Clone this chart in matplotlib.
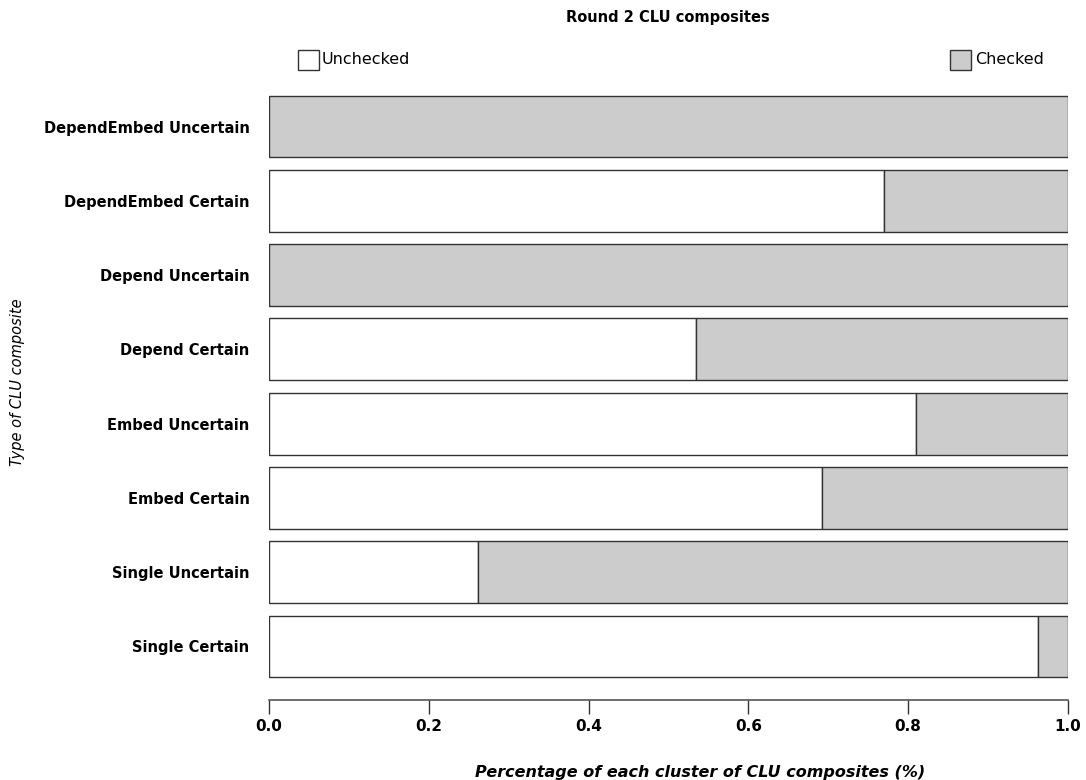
"""
Round 2 CLU composites - stacked horizontal bars
"""
import numpy as np
import matplotlib
matplotlib.use("Agg")
import matplotlib.pyplot as plt
from matplotlib.patches import Rectangle

# Data (bottom to top)
categories = ["Single Certain", "Single Uncertain", "Embed Certain", "Embed Uncertain",
              "Depend Certain", "Depend Uncertain", "DependEmbed Certain", "DependEmbed Uncertain"]
unchecked = [0.963, 0.261, 0.692, 0.810, 0.535, 0.0, 0.770, 0.0]
checked = [1 - v for v in unchecked]
xticks = [0.0, 0.2, 0.4, 0.6, 0.8, 1.0]

plt.rcParams['font.family'] = ['DejaVu Sans']

fig = plt.figure(figsize=(10.86, 7.80), dpi=100)
ax = fig.add_axes([0.2477, 0.1026, 0.7357, 0.7923])

y = np.arange(len(categories))
edge = "#333333"
ax.barh(y, unchecked, height=1 / 1.2, color="white", edgecolor=edge, linewidth=1)
ax.barh(y, checked, left=unchecked, height=1 / 1.2, color="#cccccc", edgecolor=edge, linewidth=1)

ax.set_xlim(0, 1)
ax.set_ylim(-0.72, 7.6)
for s in ["top", "right", "left"]:
    ax.spines[s].set_visible(False)
ax.spines["bottom"].set_color("#555555")
ax.spines["bottom"].set_linewidth(1.2)

ax.set_xticks(xticks)
ax.set_xticklabels([f"{t:.1f}" for t in xticks], fontsize=11, fontweight="bold")
ax.tick_params(axis="x", length=10, width=1, color="#333333", pad=4)
ax.set_yticks(y)
ax.set_yticklabels(categories, fontsize=10.5, fontweight="bold")
ax.tick_params(axis="y", length=0, pad=14)

# titles
fig.text(0.615, 0.977, "Round 2 CLU composites", ha="center", va="center",
         fontsize=10.5, fontweight="semibold")
fig.text(0.645, 0.01, "Percentage of each cluster of CLU composites (%)", ha="center",
         va="center", fontsize=11.5, fontweight="bold", style="italic")
fig.text(0.016, 0.51, "Type of CLU composite", ha="center", va="center", rotation=90,
         fontsize=10.5, style="italic")

# legend
fig.patches.append(Rectangle((298 / 1086, 1 - 70 / 780), 21 / 1086, 20 / 780,
                             transform=fig.transFigure, facecolor="white",
                             edgecolor=edge, linewidth=1))
fig.text(322 / 1086, 1 - 60 / 780, "Unchecked", ha="left", va="center", fontsize=11.5)
fig.patches.append(Rectangle((950 / 1086, 1 - 70 / 780), 21 / 1086, 20 / 780,
                             transform=fig.transFigure, facecolor="#cccccc",
                             edgecolor=edge, linewidth=1))
fig.text(975 / 1086, 1 - 60 / 780, "Checked", ha="left", va="center", fontsize=11.5)

fig.savefig("out.png", dpi=100)
